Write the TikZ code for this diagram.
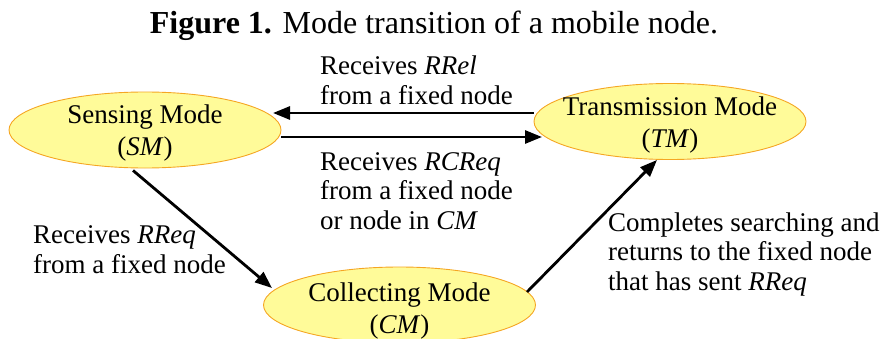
\documentclass[tikz,border=0pt]{standalone}
\usepackage{fontspec}
\setmainfont{Liberation Serif}
\usetikzlibrary{shapes.geometric,arrows.meta}
\definecolor{ellfill}{HTML}{FFFB99}
\definecolor{elldraw}{HTML}{F5A623}
\begin{document}
\begin{tikzpicture}[x=1pt,y=1pt,
  modebox/.style={ellipse,draw=elldraw,line width=0.9pt,fill=ellfill,
    minimum width=272pt,minimum height=76pt,inner sep=0pt},
  modetext/.style={anchor=base,inner sep=0pt,align=center,
    font=\fontsize{27}{32}\selectfont},
  lbl/.style={anchor=base west,inner sep=0pt,align=left,
    font=\fontsize{27}{29.5}\selectfont},
  arr/.style={line width=2.8pt,-{Triangle[length=17pt,width=13pt]}}]
\useasboundingbox (0,0) rectangle (882,338);
\node[anchor=base,inner sep=0pt,font=\fontsize{32}{36}\selectfont] (title) at (434,304)
  {\textbf{Figure 1.} Mode transition of a mobile node.};
\node[modebox] (SM) at (145,208) {};
\node[modebox] (TM) at (670,216.5) {};
\node[modebox] (CM) at (399.5,33) {};
\node[modetext] (SMt) at ([yshift=-25pt]SM.center) {Sensing Mode\\(\textit{SM})};
\node[modetext] (TMt) at ([yshift=-25.5pt]TM.center) {Transmission Mode\\(\textit{TM})};
\node[modetext] (CMt) at ([yshift=-28pt]CM.center) {Collecting Mode\\(\textit{CM})};
\draw[arr] ([yshift=8.5pt]TM.west) -- ([shift={(128pt,17pt)}]SM.center);
\draw[arr] ([yshift=-7pt]SM.east) -- ([shift={(-128pt,-15.5pt)}]TM.center);
\draw[arr] ([shift={(-12pt,-2pt)}]SM.south) -- ([shift={(-127.5pt,17pt)}]CM.center);
\draw[arr] ([shift={(127.5pt,13pt)}]CM.center) -- ([xshift=-13pt]TM.south);
\node[lbl] (l1) at (320,234) {Receives \textit{RRel}\\from a fixed node};
\node[lbl] (l2) at (320,109) {Receives \textit{RCReq}\\from a fixed node\\or node in \textit{CM}};
\node[lbl] (l3) at (33,65) {Receives \textit{RReq}\\from a fixed node};
\node[lbl] (l4) at (608,48) {Completes searching and\\returns to the fixed node\\that has sent \textit{RReq}};
\end{tikzpicture}
\end{document}
